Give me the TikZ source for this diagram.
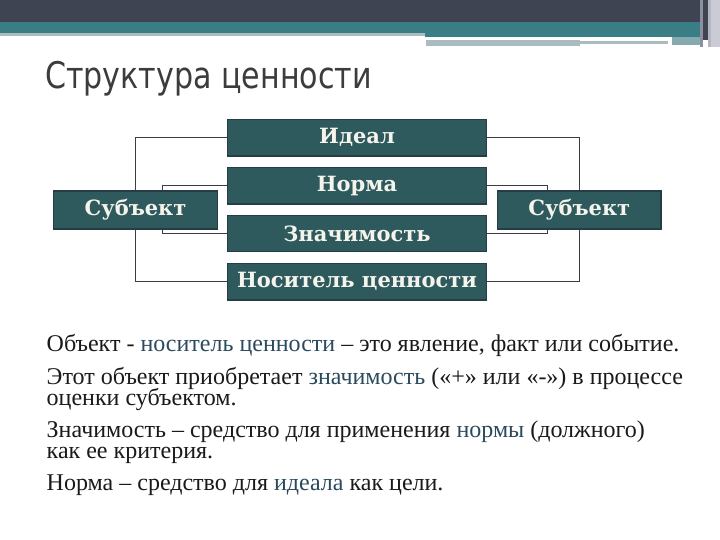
\documentclass[tikz,border=0pt]{standalone}
\usepackage{fontspec}
\usepackage{graphicx}
\setmainfont{Liberation Serif}
\newfontfamily\boxfont{DejaVu Serif}
\newfontfamily\titlefont{DejaVu Sans}
\definecolor{bandA}{HTML}{3F4453}
\definecolor{bandB}{HTML}{3A7E85}
\definecolor{bandC}{HTML}{A9BCC0}
\definecolor{bandD}{HTML}{86AAB0}
\definecolor{grayA}{HTML}{8C8FA0}
\definecolor{grayB}{HTML}{B4B6C2}
\definecolor{lav}{HTML}{CBCBD5}
\definecolor{boxfill}{HTML}{2F5A5D}
\definecolor{boxline}{HTML}{263D48}
\definecolor{boxtext}{HTML}{F4F4EC}
\definecolor{connc}{HTML}{3C3C48}
\definecolor{titlec}{HTML}{3C3C3C}
\definecolor{bodyc}{HTML}{1A1A1A}
\definecolor{blueword}{HTML}{2B4A5E}
\newcommand\twolines[2]{\vtop{\baselineskip=21pt\lineskiplimit=-100pt\hbox{#1}\hbox{#2}}}
\begin{document}
\begin{tikzpicture}[x=1pt,y=-1pt,
  box/.style={draw=boxline, line width=1.2pt, fill=boxfill, text=boxtext,
    font=\boxfont\bfseries\fontsize{21}{24}\selectfont,
    minimum width=259pt, minimum height=36.5pt, inner sep=0pt},
  subj/.style={box, minimum width=163.5pt, minimum height=38pt},
  conn/.style={draw=connc, line width=0.9pt},
  body/.style={anchor=base west, inner sep=0pt, text=bodyc,
    font=\fontsize{24}{24}\selectfont}]
\useasboundingbox (0,0) rectangle (720,540);
\fill[white] (0,0) rectangle (720,540);
% top band
\fill[bandA] (0,0) rectangle (700,22);
\fill[bandB] (0,22) rectangle (700,33);
\fill[bandC] (0,33) rectangle (425,36);
\fill[bandB] (425,33) rectangle (700,37);
\fill[bandC] (426,40) rectangle (580,46);
\fill[bandC] (580,41) rectangle (668,44);
\fill[bandD] (672,37) rectangle (700,45);
\fill[grayA] (700,0) rectangle (703,47);
\fill[bandA] (703,0) rectangle (708,40);
\fill[grayB] (708,0) rectangle (711,47);
\fill[lav] (711,0) rectangle (720,47);
% title
\node[anchor=base west, inner sep=0pt, text=titlec,
  font=\titlefont\fontsize{36.7}{40}\selectfont] (title) at (45,88.3)
  {\resizebox{326.7pt}{\height}{Структура ценности}};
% boxes
\node[box] (ideal) at (357,137.7) {Идеал};
\node[box] (norma) at (357,185.7) {Норма};
\node[box] (znach) at (357,233.4) {Значимость};
\node[box] (nosit) at (357,281.7) {Носитель ценности};
\node[subj] (subL) at (135.5,210) {Субъект};
\node[subj] (subR) at (579.3,210) {Субъект};
% connectors
\draw[conn] (subL.north) |- (ideal.west);
\draw[conn] ([xshift=26.5pt]subL.north) |- (norma.west);
\draw[conn] ([xshift=26.5pt]subL.south) |- (znach.west);
\draw[conn] (subL.south) |- (nosit.west);
\draw[conn] (subR.north) |- (ideal.east);
\draw[conn] ([xshift=-31.5pt]subR.north) |- (norma.east);
\draw[conn] ([xshift=-31.5pt]subR.south) |- (znach.east);
\draw[conn] (subR.south) |- (nosit.east);
% body text
\node[body] (p1) at (46.5,351.7) {Объект - \textcolor{blueword}{носитель ценности} – это явление, факт или событие.};
\node[body] (p2) at (46.5,384.3) {\twolines{Этот объект приобретает \textcolor{blueword}{значимость} («+» или «-») в процессе}{оценки субъектом.}};
\node[body] (p3) at (46.5,437.3) {\twolines{Значимость – средство для применения \textcolor{blueword}{нормы} (должного)}{как ее критерия.}};
\node[body] (p4) at (46.5,490) {Норма – средство для \textcolor{blueword}{идеала} как цели.};
\end{tikzpicture}
\end{document}
